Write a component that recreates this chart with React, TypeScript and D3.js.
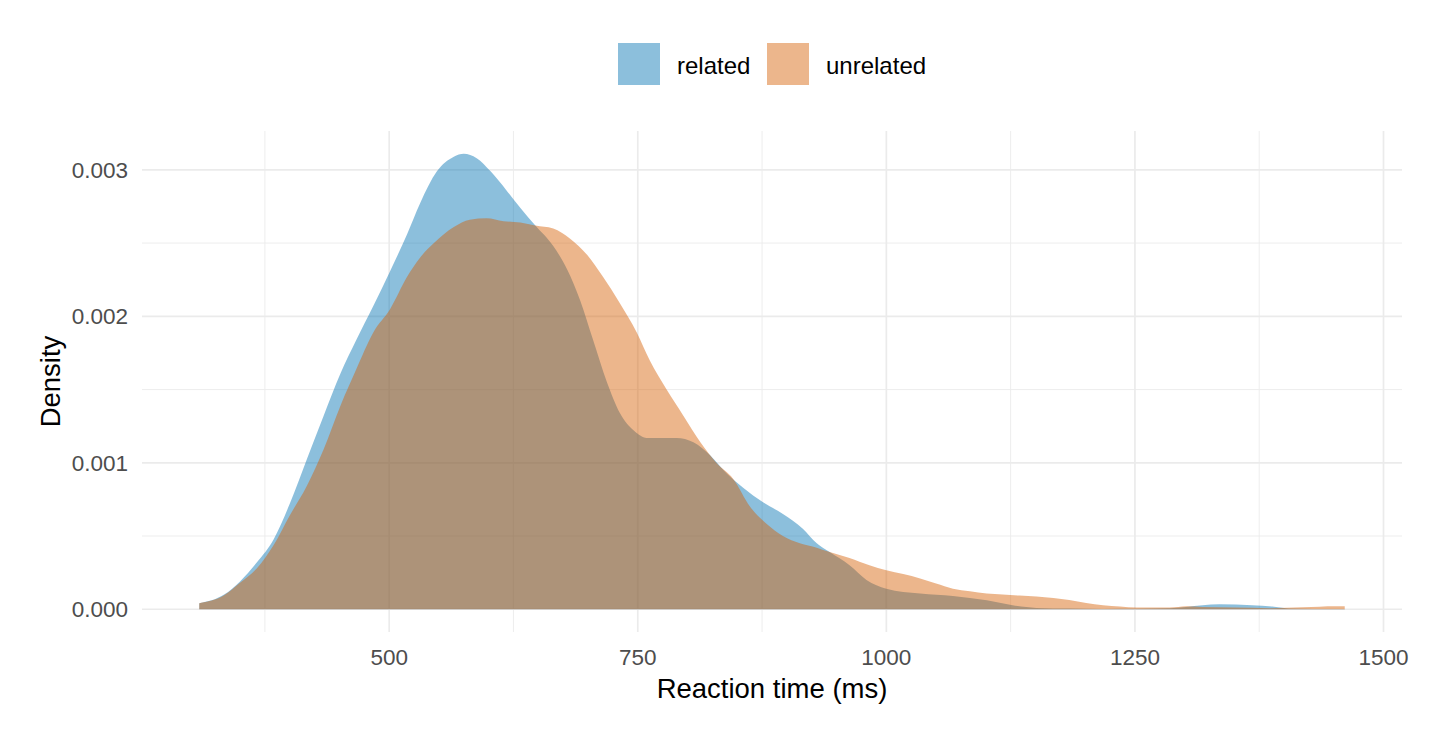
import React, { useEffect, useRef } from 'react';
import * as d3 from 'd3';

// reaction-time grid (ms) and density estimates
const relatedRT = [
  309, 334, 350, 367, 384, 400, 417, 434, 451, 467, 484, 501, 518, 531, 548, 565, 575, 588,
  602, 618, 632, 647, 665, 679, 692, 705, 719, 732, 746, 759, 772, 789, 806, 823, 839, 856,
  876, 896, 916, 930, 943, 963, 980, 1000, 1034, 1067, 1101, 1127, 1151, 1184, 1218, 1252,
  1285, 1318, 1335, 1368, 1388, 1404, 1430, 1461,
];
const relatedDensity = [
  0.000041, 0.0001, 0.00019, 0.00032, 0.00048, 0.00072, 0.00102, 0.00132, 0.00161, 0.00184,
  0.00207, 0.00231, 0.00256, 0.00277, 0.00299, 0.00309, 0.00311, 0.00308, 0.00299, 0.00286,
  0.00274, 0.00262, 0.00248, 0.00232, 0.00211, 0.00184, 0.00155, 0.00134, 0.00122, 0.00117,
  0.00117, 0.00117, 0.00114, 0.00105, 0.00093, 0.00083, 0.00073, 0.00065, 0.00055, 0.00045,
  0.00039, 0.0003, 0.0002, 0.00014, 0.000107, 0.000091, 0.000061, 0.000027, 0.000009,
  0.000005, 0.000002, 0.000003, 0.000006, 0.000027, 0.000034, 0.000027, 0.000018, 0.000005,
  0.000002, 0.000002,
];

const unrelatedRT = [
  309, 334, 350, 367, 384, 400, 417, 434, 451, 467, 484, 501, 518, 531, 545, 565, 581, 598,
  615, 632, 647, 665, 682, 699, 715, 732, 749, 762, 779, 796, 813, 829, 846, 863, 880, 896,
  913, 930, 943, 963, 983, 1000, 1017, 1034, 1050, 1067, 1084, 1101, 1117, 1134, 1151, 1168,
  1184, 1201, 1218, 1235, 1252, 1285, 1302, 1318, 1352, 1385, 1419, 1452, 1461,
];
const unrelatedDensity = [
  0.000041, 0.000095, 0.00018, 0.00028, 0.00044, 0.00064, 0.00084, 0.00109, 0.00139, 0.00164,
  0.00189, 0.00205, 0.00227, 0.0024, 0.0025, 0.00261, 0.00266, 0.00267, 0.00265, 0.00264,
  0.00262, 0.0026, 0.00253, 0.00242, 0.00227, 0.00209, 0.00189, 0.0017, 0.0015, 0.00132,
  0.00114, 0.001, 0.00089, 0.0007, 0.00058, 0.0005, 0.00045, 0.00042, 0.00039, 0.00035,
  0.0003, 0.000266, 0.00024, 0.00021, 0.000175, 0.00014, 0.000123, 0.000107, 0.0001,
  0.000093, 0.000087, 0.000077, 0.000063, 0.000043, 0.000027, 0.000018, 0.000011, 0.000011,
  0.00002, 0.000015, 0.000011, 0.000007, 0.000013, 0.00002, 0.00002,
];

const groups = ['related', 'unrelated'];
const groupColors = ['#0072B2', '#D55E00'];
const xTicks = [500, 750, 1000, 1250, 1500];
const xMinorTicks = [375, 625, 875, 1125, 1375];
const yTicks = [0, 0.001, 0.002, 0.003];
const yMinorTicks = [0.0005, 0.0015, 0.0025];

const WIDTH = 1440;
const HEIGHT = 729;
const FONT = '"Liberation Sans", Arial, sans-serif';

export default function App() {
  const svgRef = useRef<SVGSVGElement>(null);

  useEffect(() => {
    if (!svgRef.current) return;
    const svg = d3.select(svgRef.current);
    svg.selectAll('*').remove();

    const panel = { left: 142, right: 1402, top: 131, bottom: 632 };

    // ggplot-style 5% expansion around the data range
    const allX = [...relatedRT, ...unrelatedRT];
    const [xMin, xMax] = d3.extent(allX) as [number, number];
    const xPad = (xMax - xMin) * 0.05;
    const xScale = d3.scaleLinear()
      .domain([xMin - xPad, xMax + xPad])
      .range([panel.left, panel.right]);

    const yMax = d3.max([...relatedDensity, ...unrelatedDensity]) || 0;
    const yScale = d3.scaleLinear()
      .domain([-yMax * 0.05, yMax * 1.05])
      .range([panel.bottom, panel.top]);

    const grid = svg.append('g');

    // minor grid
    grid.selectAll('.x-minor')
      .data(xMinorTicks)
      .enter()
      .append('line')
      .attr('x1', d => xScale(d))
      .attr('x2', d => xScale(d))
      .attr('y1', panel.top)
      .attr('y2', panel.bottom)
      .style('stroke', '#EBEBEB')
      .style('stroke-width', 0.9);

    grid.selectAll('.y-minor')
      .data(yMinorTicks)
      .enter()
      .append('line')
      .attr('x1', panel.left)
      .attr('x2', panel.right)
      .attr('y1', d => yScale(d))
      .attr('y2', d => yScale(d))
      .style('stroke', '#EBEBEB')
      .style('stroke-width', 0.9);

    // major grid
    grid.selectAll('.x-major')
      .data(xTicks)
      .enter()
      .append('line')
      .attr('x1', d => xScale(d))
      .attr('x2', d => xScale(d))
      .attr('y1', panel.top)
      .attr('y2', panel.bottom)
      .style('stroke', '#EBEBEB')
      .style('stroke-width', 1.7);

    grid.selectAll('.y-major')
      .data(yTicks)
      .enter()
      .append('line')
      .attr('x1', panel.left)
      .attr('x2', panel.right)
      .attr('y1', d => yScale(d))
      .attr('y2', d => yScale(d))
      .style('stroke', '#EBEBEB')
      .style('stroke-width', 1.7);

    // density areas
    const area = d3.area<[number, number]>()
      .x(d => xScale(d[0]))
      .y0(yScale(0))
      .y1(d => yScale(d[1]))
      .curve(d3.curveMonotoneX);

    const series: [number, number][][] = [
      relatedRT.map((x, i) => [x, relatedDensity[i]] as [number, number]),
      unrelatedRT.map((x, i) => [x, unrelatedDensity[i]] as [number, number]),
    ];

    svg.append('g')
      .selectAll('path')
      .data(series)
      .enter()
      .append('path')
      .attr('d', d => area(d) as string)
      .style('fill', (_, i) => groupColors[i])
      .style('fill-opacity', 0.45)
      .style('stroke', 'none');

    // tick labels
    svg.append('g')
      .selectAll('text')
      .data(xTicks)
      .enter()
      .append('text')
      .attr('x', d => xScale(d))
      .attr('y', 665)
      .attr('text-anchor', 'middle')
      .style('font-family', FONT)
      .style('font-size', '22.5px')
      .style('fill', '#4D4D4D')
      .text(d => d3.format('d')(d));

    svg.append('g')
      .selectAll('text')
      .data(yTicks)
      .enter()
      .append('text')
      .attr('x', 128)
      .attr('y', d => yScale(d) + 8)
      .attr('text-anchor', 'end')
      .style('font-family', FONT)
      .style('font-size', '22.5px')
      .style('fill', '#4D4D4D')
      .text(d => d3.format('.3f')(d));

    // axis titles
    svg.append('text')
      .attr('x', (panel.left + panel.right) / 2)
      .attr('y', 698)
      .attr('text-anchor', 'middle')
      .style('font-family', FONT)
      .style('font-size', '27.5px')
      .style('fill', '#000')
      .text('Reaction time (ms)');

    svg.append('text')
      .attr('transform', `translate(60,${(panel.top + panel.bottom) / 2}) rotate(-90)`)
      .attr('text-anchor', 'middle')
      .style('font-family', FONT)
      .style('font-size', '27.5px')
      .style('fill', '#000')
      .text('Density');

    // legend
    const legendX = [618, 767];
    const legend = svg.append('g')
      .selectAll('g')
      .data(groups)
      .enter()
      .append('g')
      .attr('transform', (_, i) => `translate(${legendX[i]},43)`);

    legend.append('rect')
      .attr('width', 42)
      .attr('height', 42)
      .style('fill', (_, i) => groupColors[i])
      .style('fill-opacity', 0.45);

    legend.append('text')
      .attr('x', 59)
      .attr('y', 31)
      .style('font-family', FONT)
      .style('font-size', '24px')
      .style('fill', '#000')
      .text(d => d);
  }, []);

  return (
    <svg
      ref={svgRef}
      width={WIDTH}
      height={HEIGHT}
      style={{ position: 'absolute', left: 0, top: 0, background: '#fff' }}
    />
  );
}
